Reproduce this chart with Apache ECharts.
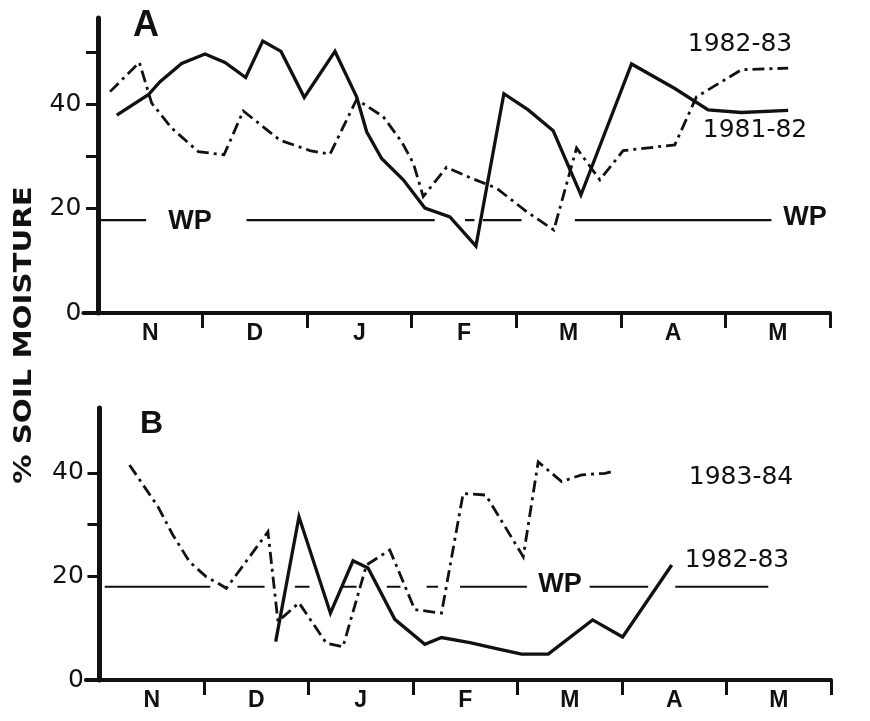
<!DOCTYPE html>
<html>
<head>
<meta charset="utf-8">
<script src="https://cdn.jsdelivr.net/npm/echarts@6/dist/echarts.min.js"></script>
<style>
html,body{margin:0;padding:0;background:#fff;}
#chart{width:870px;height:721px;}
</style>
</head>
<body>
<div id="chart"></div>
<script>
// ---- data (x = months since start of November, y = % soil moisture) ----
const MONTHS = ['N', 'D', 'J', 'F', 'M', 'A', 'M'];
const MONTH_LABEL_POS = [0.5, 1.5, 2.5, 3.5, 4.5, 5.5, 6.5];
const MONTH_TICKS = [1, 2, 3, 4, 5, 6, 7];
const Y_TICKS_A = [0, 20, 30, 40, 50];
const Y_TICKS_B = [0, 20, 30, 40];
const Y_LABELS = [0, 20, 40];

// Panel A
const A_1981_82 = [
  [0.179, 37.9], [0.481, 41.8], [0.593, 44.3], [0.800, 47.8], [1.023, 49.6],
  [1.214, 48.0], [1.412, 45.1], [1.575, 52.1], [1.750, 50.1], [1.972, 41.3],
  [2.266, 50.1], [2.473, 41.4], [2.569, 34.7], [2.712, 29.6], [2.919, 25.5],
  [3.126, 20.1], [3.365, 18.4], [3.614, 12.8], [3.881, 42.0], [4.114, 38.9],
  [4.353, 34.9], [4.618, 22.6], [5.102, 47.7], [5.516, 43.0], [5.835, 38.9],
  [6.154, 38.4], [6.600, 38.8]
];
const A_1982_83 = [
  [0.115, 42.4], [0.395, 48.0], [0.513, 40.2], [0.705, 35.4], [0.959, 30.9],
  [1.205, 30.3], [1.389, 38.7], [1.740, 33.1], [2.027, 31.1], [2.218, 30.4],
  [2.473, 40.9], [2.728, 37.6], [2.903, 32.8], [3.015, 28.7], [3.110, 22.3],
  [3.333, 27.9], [3.572, 25.8], [3.812, 23.9], [4.099, 19.4], [4.359, 15.9],
  [4.576, 31.6], [4.799, 25.5], [5.022, 31.1], [5.516, 32.2], [5.723, 41.4],
  [6.154, 46.6], [6.600, 46.9]
];
const WP_A = 17.8;
const WP_A_SEGMENTS = [[0.0, 0.46], [1.42, 3.22], [3.51, 3.60], [3.68, 4.05], [4.56, 6.44], [7.11, 7.38]];

// Panel B
const B_1983_84 = [
  [0.287, 41.5], [0.558, 33.5], [0.702, 28.0], [0.862, 22.8], [1.022, 19.9],
  [1.133, 18.7], [1.214, 17.7], [1.612, 28.6], [1.708, 11.3], [1.909, 14.9],
  [2.171, 7.1], [2.330, 6.4], [2.555, 22.2], [2.778, 25.1], [3.017, 13.6],
  [3.273, 12.9], [3.480, 36.0], [3.697, 35.7], [4.055, 23.8], [4.198, 42.1],
  [4.422, 38.3], [4.614, 39.6], [4.837, 39.9], [4.933, 40.4]
];
const B_1982_83 = [
  [1.686, 7.4], [1.909, 31.5], [2.210, 12.9], [2.426, 23.0], [2.570, 21.6],
  [2.826, 11.7], [3.113, 6.9], [3.273, 8.2], [3.544, 7.2], [3.831, 5.9],
  [4.039, 5.0], [4.294, 5.0], [4.719, 11.6], [5.006, 8.3], [5.476, 22.2]
];
const WP_B = 18.0;
const WP_B_SEGMENTS = [[0.05, 1.06], [1.32, 1.58], [1.87, 2.01], [2.33, 2.46], [2.75, 2.88],
  [3.13, 3.24], [3.45, 4.09], [4.69, 5.25], [5.51, 6.40]];

// ---- build ----
function segData(segs, level) {
  const out = [];
  segs.forEach(s => { out.push([s[0], level]); out.push([s[1], level]); out.push([s[1], '-']); });
  return out;
}
const INK = '#111';
const DASH_DOT = [12, 5, 3, 5];

function xAxisCfg(gridIndex, min) {
  return {
    gridIndex: gridIndex, type: 'value', min: min, max: 7,
    splitLine: { show: false },
    axisLine: { show: true, onZero: false, lineStyle: { color: INK, width: 4 } },
    axisTick: { show: true, customValues: MONTH_TICKS, length: 15, lineStyle: { color: INK, width: 3 } },
    axisLabel: {
      customValues: MONTH_LABEL_POS, margin: 9,
      formatter: v => MONTHS[Math.floor(v)],
      color: INK, fontFamily: 'Liberation Sans', fontWeight: 'bold', fontSize: 23
    }
  };
}
function yAxisCfg(gridIndex, max, ticks) {
  return {
    gridIndex: gridIndex, type: 'value', min: 0, max: max,
    splitLine: { show: false },
    axisLine: { show: true, onZero: true, lineStyle: { color: INK, width: 5 } },
    axisTick: { show: true, customValues: ticks, length: 12, lineStyle: { color: INK, width: 3 } },
    axisLabel: {
      customValues: Y_LABELS, margin: 2,
      color: INK, fontFamily: 'DejaVu Sans', fontSize: 25
    }
  };
}
function lineSeries(name, data, xi, dashed) {
  return {
    name: name, type: 'line', xAxisIndex: xi, yAxisIndex: xi, data: data,
    symbol: 'none', showSymbol: false, animation: false,
    lineStyle: { color: INK, width: dashed ? 2.8 : 3.3, type: dashed ? DASH_DOT : 'solid', join: 'miter' }
  };
}
function wpSeries(segs, level, xi) {
  return {
    name: 'WP', type: 'line', xAxisIndex: xi, yAxisIndex: xi, data: segData(segs, level),
    symbol: 'none', showSymbol: false, animation: false, clip: false, connectNulls: false,
    lineStyle: { color: INK, width: 2.2 }
  };
}
function txt(x, y, text, font, align) {
  return { type: 'text', x: x, y: y, silent: true,
    style: { text: text, font: font, fill: INK, align: align || 'left', verticalAlign: 'middle' } };
}

const chart = echarts.init(document.getElementById('chart'), null, { renderer: 'canvas' });
chart.setOption({
  backgroundColor: '#fff',
  animation: false,
  grid: [
    { left: 83.4, top: 18, width: 746.6, height: 295, outerBoundsMode: 'none' },
    { left: 85.9, top: 408, width: 745.1, height: 272, outerBoundsMode: 'none' }
  ],
  xAxis: [xAxisCfg(0, -0.14), xAxisCfg(1, -0.13)],
  yAxis: [yAxisCfg(0, 56.5, Y_TICKS_A), yAxisCfg(1, 52.5, Y_TICKS_B)],
  series: [
    wpSeries(WP_A_SEGMENTS, WP_A, 0),
    lineSeries('1981-82', A_1981_82, 0, false),
    lineSeries('1982-83', A_1982_83, 0, true),
    wpSeries(WP_B_SEGMENTS, WP_B, 1),
    lineSeries('1982-83', B_1982_83, 1, false),
    lineSeries('1983-84', B_1983_84, 1, true)
  ],
  graphic: [
    txt(133, 26, 'A', 'bold 36px "Liberation Sans"'),
    txt(140, 424, 'B', 'bold 32px "Liberation Sans"'),
    txt(190, 222, 'WP', 'bold 27px "Liberation Sans"', 'center'),
    txt(805, 218, 'WP', 'bold 27px "Liberation Sans"', 'center'),
    txt(560, 585, 'WP', 'bold 27px "Liberation Sans"', 'center'),
    txt(740, 44, '1982-83', '25px "DejaVu Sans"', 'center'),
    txt(755, 130, '1981-82', '25px "DejaVu Sans"', 'center'),
    txt(741, 477, '1983-84', '25px "DejaVu Sans"', 'center'),
    txt(737, 560, '1982-83', '25px "DejaVu Sans"', 'center'),
    { type: 'text', x: 25, y: 335, rotation: Math.PI / 2, scaleX: 1.22, silent: true,
      style: { text: '% SOIL MOISTURE', font: 'bold 24px "DejaVu Sans"', fill: INK, align: 'center', verticalAlign: 'middle' } }
  ]
});
</script>
</body>
</html>
